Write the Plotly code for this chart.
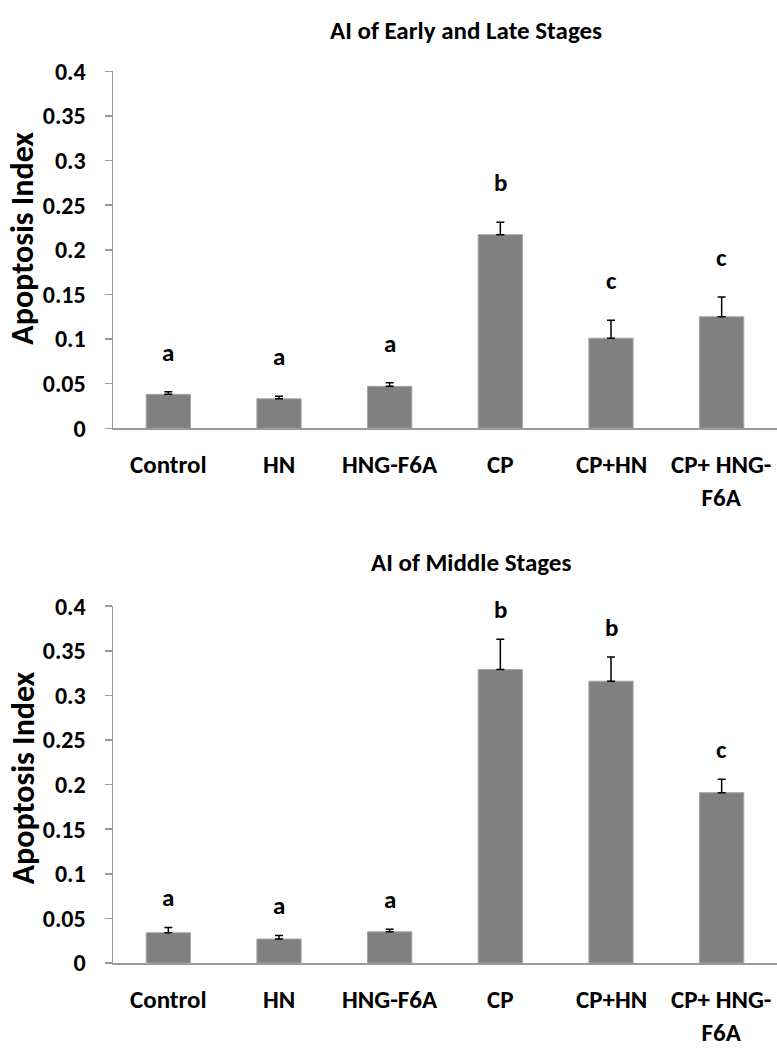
import plotly.graph_objects as go

categories = ["Control", "HN", "HNG-F6A", "CP", "CP+HN", "CP+ HNG-<br>F6A"]

early_late_values = [0.038, 0.033, 0.047, 0.217, 0.101, 0.125]
early_late_errors = [0.003, 0.003, 0.004, 0.014, 0.020, 0.022]
early_late_letters = ["a", "a", "a", "b", "c", "c"]

middle_values = [0.034, 0.027, 0.035, 0.329, 0.316, 0.191]
middle_errors = [0.006, 0.004, 0.003, 0.034, 0.027, 0.015]
middle_letters = ["a", "a", "a", "b", "b", "c"]

y_ticks = [0, 0.05, 0.1, 0.15, 0.2, 0.25, 0.3, 0.35, 0.4]
titles = ["AI of Early and Late Stages", "AI of Middle Stages"]
y_title = "Apoptosis Index"

FONT = "Carlito, Calibri, Lato, 'Open Sans', sans-serif"
BAR = "#808080"
AXIS = "#9a9a9a"

fig = go.Figure()

panels = [
    (early_late_values, early_late_errors, early_late_letters, "x", "y", 22),
    (middle_values, middle_errors, middle_letters, "x2", "y2", 12),
]
xs = list(range(len(categories)))
for vals, errs, letters, xa, ya, shift in panels:
    fig.add_trace(go.Bar(
        x=xs, y=vals, xaxis=xa, yaxis=ya, width=0.4,
        marker=dict(color=BAR, line=dict(color="#a6a6a6", width=1)),
        error_y=dict(type="data", array=errs, arrayminus=[0] * len(errs),
                     symmetric=False, color="black", thickness=1.5, width=4),
        showlegend=False, hoverinfo="skip",
    ))
    for xi, v, e, t in zip(xs, vals, errs, letters):
        fig.add_annotation(x=xi, y=v + e, xref=xa, yref=ya, text=f"<b>{t}</b>",
                           showarrow=False, yanchor="bottom", yshift=shift,
                           font=dict(family=FONT, size=25, color="black"))
    # category labels under the axis (last one kept inside the right edge)
    for xi, c in zip(xs, categories):
        last = xi == xs[-1]
        fig.add_annotation(x=(xi + 0.5) if last else xi, y=0, xref=xa, yref=ya,
                           text=f"<b>{c}</b>", showarrow=False,
                           xanchor="right" if last else "center", yanchor="top",
                           xshift=-4 if last else 0, yshift=-19, align="center",
                           font=dict(family=FONT, size=25, color="black"))

x_dom = [113 / 777, 1.0]
top_dom = [1 - 425 / 1050, 1 - 58 / 1050]
bot_dom = [1 - 975 / 1050, 1 - 608 / 1050]

def xaxis_cfg():
    return dict(domain=x_dom, range=[-0.5, 5.5], tickmode="array", tickvals=xs,
                showticklabels=False, showline=True,
                linecolor=AXIS, linewidth=1.5, ticks="", showgrid=False,
                zeroline=False)

def yaxis_cfg(dom):
    return dict(domain=dom, range=[0, 0.4], tickmode="array", tickvals=y_ticks,
                ticktext=[f"<b>{t:g}</b>" for t in y_ticks], showline=True,
                linecolor=AXIS, linewidth=1.5, ticks="outside", ticklen=7,
                tickcolor=AXIS, tickwidth=1.5, showgrid=False, zeroline=False,
                ticklabelstandoff=14,
                tickfont=dict(family=FONT, size=24, color="black"))

fig.update_layout(
    width=777, height=1050, margin=dict(l=0, r=0, t=0, b=0),
    plot_bgcolor="white", paper_bgcolor="white", bargap=0.6,
    xaxis=xaxis_cfg(), yaxis=yaxis_cfg(top_dom),
    xaxis2=dict(xaxis_cfg(), anchor="y2"), yaxis2=dict(yaxis_cfg(bot_dom), anchor="x2"),
)
fig.update_layout(xaxis=dict(anchor="y"), yaxis=dict(anchor="x"))

title_pos = [(466, 16), (471, 563)]
for t, (tx, ty) in zip(titles, title_pos):
    fig.add_annotation(x=tx / 777, y=1 - ty / 1050, xref="paper", yref="paper",
                       text=f"<b>{t}</b>", showarrow=False, xanchor="center",
                       yanchor="middle", font=dict(family=FONT, size=25, color="black"))

for cy in [1 - 230 / 1050, 1 - 785 / 1050]:
    fig.add_annotation(x=23 / 777, y=cy, xref="paper", yref="paper", text=f"<b>{y_title}</b>",
                       showarrow=False, textangle=-90, xanchor="center", yanchor="middle",
                       font=dict(family=FONT, size=32, color="black"))

fig.write_html(
    "out.html",
    config={"displayModeBar": False, "staticPlot": True},
    post_script="document.body.style.margin='0';document.body.style.overflow='hidden';",
)
